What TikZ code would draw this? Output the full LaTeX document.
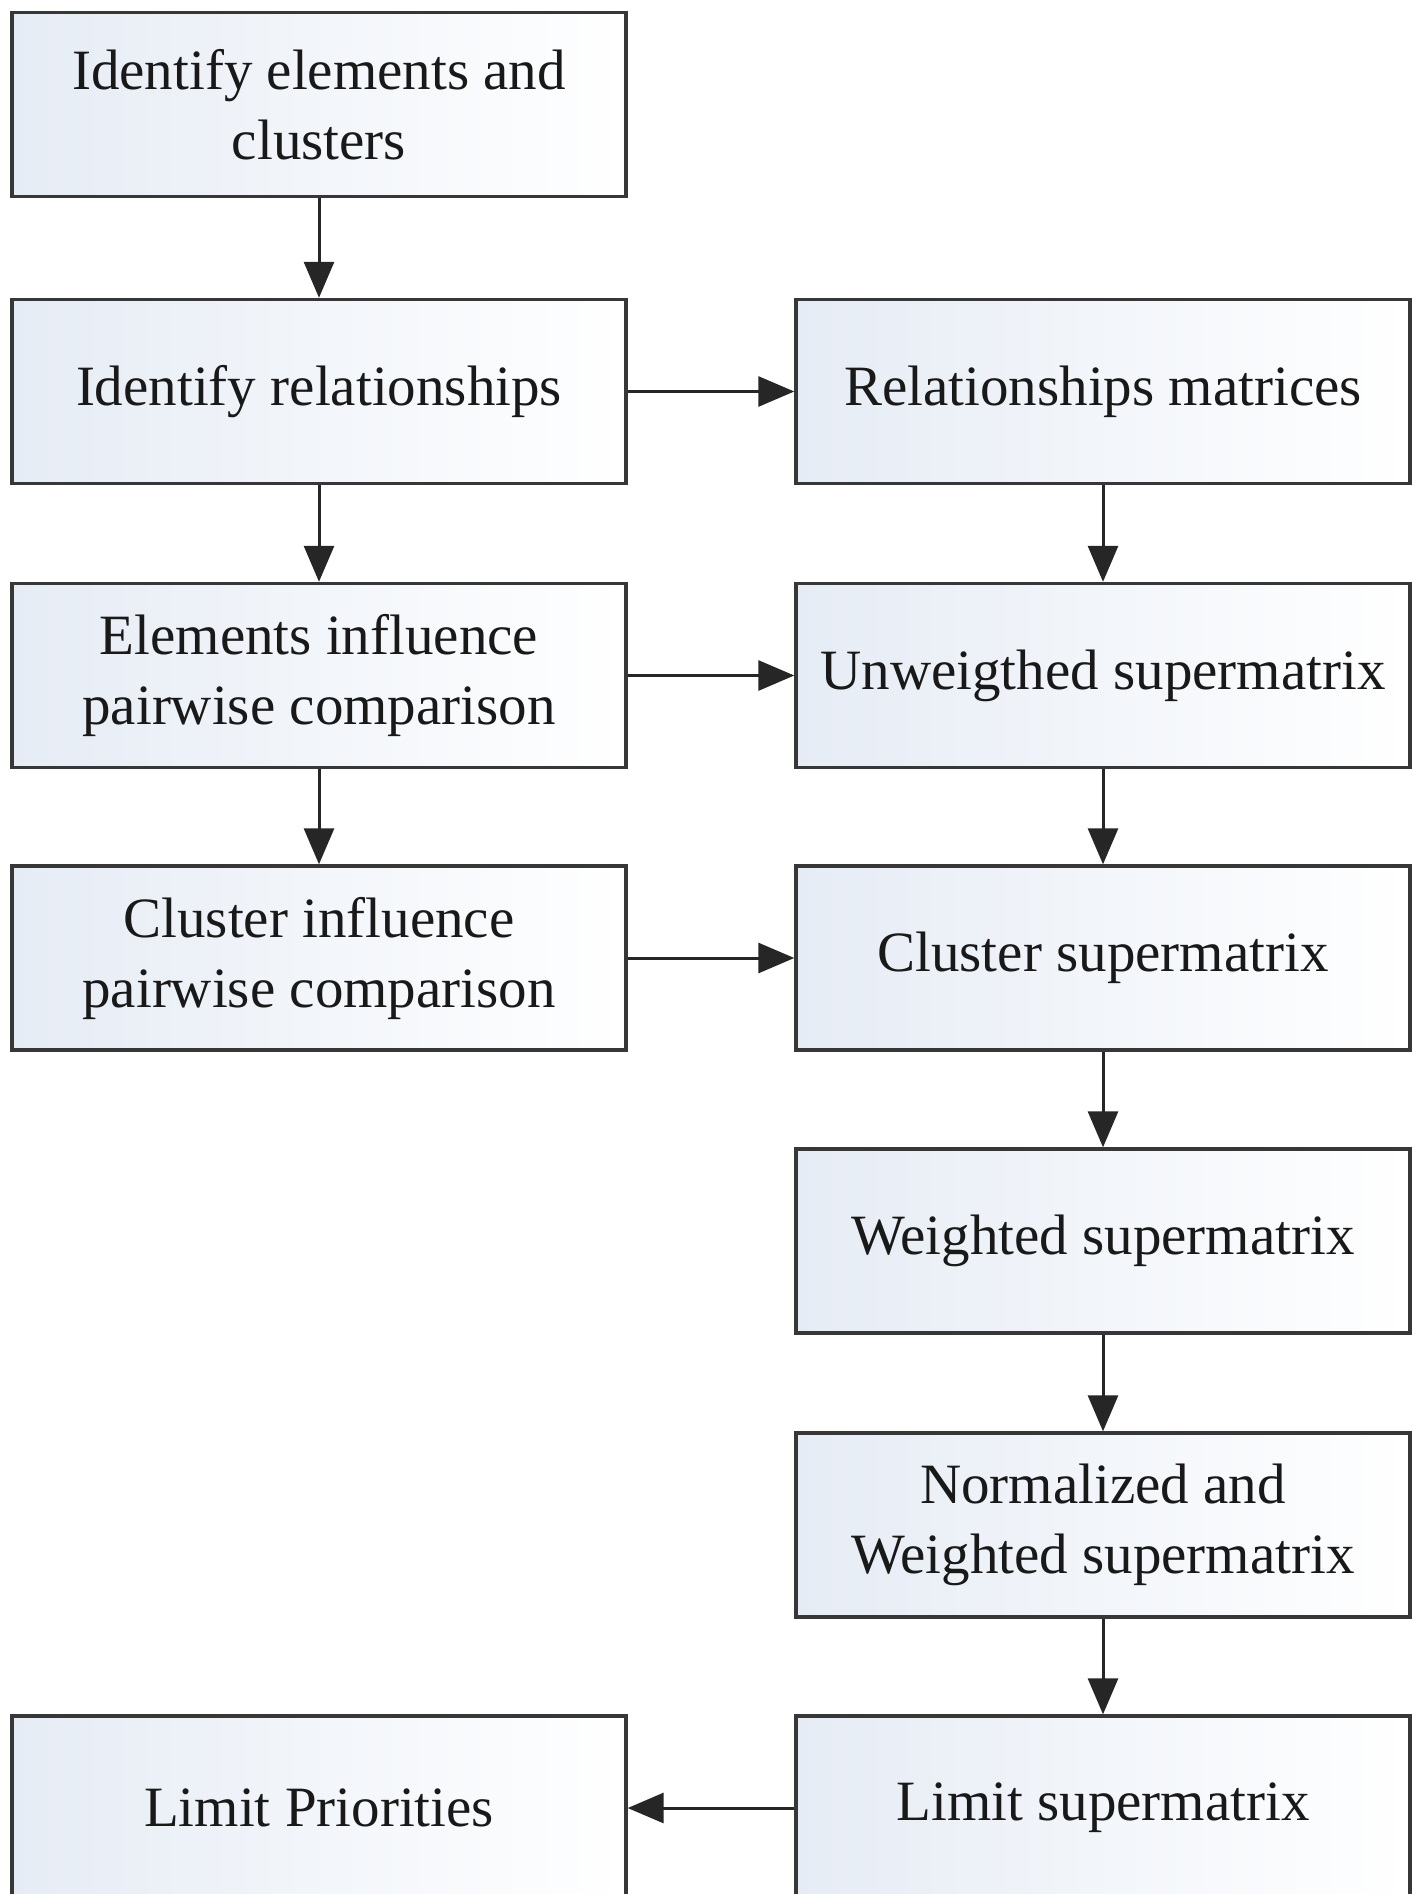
\documentclass[tikz,border=0pt]{standalone}
\usepackage{fontspec}
\setmainfont{Liberation Serif}
\usetikzlibrary{arrows.meta}
\definecolor{boxfill}{RGB}{230,236,245}
\definecolor{boxline}{RGB}{55,55,55}
\tikzset{
  stepbox/.style={draw=boxline, line width=3.4pt, left color=boxfill, right color=white,
    minimum width=614pt, minimum height=184pt, align=center, inner sep=0pt,
    font=\fontsize{57}{70}\selectfont, text=black!90},
  conn/.style={line width=3pt, draw=black!85, -{Triangle[length=36pt,width=30pt]}}
}
\begin{document}
\begin{tikzpicture}[x=1pt,y=1pt]
\useasboundingbox[fill=white] (0,0) rectangle (1416,-1894);
\node[stepbox] (a) at (319,-104.5) {Identify elements and\\clusters};
\node[stepbox] (b) at (319,-391.5) {Identify relationships};
\node[stepbox] (c) at (319,-675.5) {Elements influence\\pairwise comparison};
\node[stepbox] (d) at (319,-958) {Cluster influence\\pairwise comparison};
\node[stepbox] (r1) at (1103,-391.5) {Relationships matrices};
\node[stepbox] (r2) at (1103,-675.5) {Unweigthed supermatrix};
\node[stepbox] (r3) at (1103,-958) {Cluster supermatrix};
\node[stepbox] (r4) at (1103,-1241) {Weighted supermatrix};
\node[stepbox] (r5) at (1103,-1525) {Normalized and\\Weighted supermatrix};
\node[stepbox] (r6) at (1103,-1808) {Limit supermatrix};
\node[stepbox] (lp) at (319,-1808) {Limit Priorities};
\draw[conn] (a) -- (b);
\draw[conn] (b) -- (c);
\draw[conn] (c) -- (d);
\draw[conn] (b) -- (r1);
\draw[conn] (c) -- (r2);
\draw[conn] (d) -- (r3);
\draw[conn] (r1) -- (r2);
\draw[conn] (r2) -- (r3);
\draw[conn] (r3) -- (r4);
\draw[conn] (r4) -- (r5);
\draw[conn] (r5) -- (r6);
\draw[conn] (r6) -- (lp);
\end{tikzpicture}
\end{document}
